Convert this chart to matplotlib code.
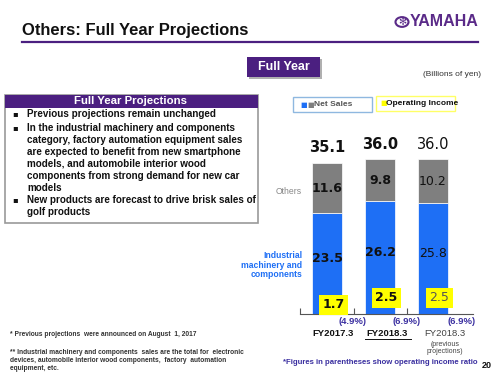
import matplotlib
matplotlib.use("Agg")
import matplotlib.pyplot as plt
from matplotlib.patches import Rectangle, Circle
from matplotlib.transforms import blended_transform_factory

plt.rcParams['font.family'] = ['Liberation Sans', 'DejaVu Sans']

# ---- data ----
periods = ["FY2017.3", "FY2018.3", "FY2018.3"]
industrial = [23.5, 26.2, 25.8]
others = [11.6, 9.8, 10.2]
totals = [35.1, 36.0, 36.0]
op_income = [1.7, 2.5, 2.5]
op_ratio = ["(4.9%)", "(6.9%)", "(6.9%)"]
bullets = [
    ["Previous projections remain unchanged"],
    ["In the industrial machinery and components",
     "category, factory automation equipment sales",
     "are expected to benefit from new smartphone",
     "models, and automobile interior wood",
     "components from strong demand for new car",
     "models"],
    ["New products are forecast to drive brisk sales of",
     "golf products"],
]

W, H = 500, 375
fig = plt.figure(figsize=(5, 3.75), dpi=100)
fig.patch.set_facecolor("white")

def P(x, y):
    return (x / W, 1 - y / H)

PURPLE = "#4b1f80"
BLUE = "#1e6ff5"
GRAY = "#7f7f7f"
NAVY = "#3a2fa0"

# ---- header ----
fig.text(*P(22, 31), "Others: Full Year Projections", fontsize=11.9, fontweight="bold",
         ha="left", va="center", color="#111111")
fig.add_artist(plt.Line2D([22 / W, 478 / W], [1 - 41.5 / H] * 2, color=PURPLE, lw=1.6))
fig.text(*P(478, 22), "YAMAHA", fontsize=11.5, fontweight="bold", ha="right", va="center",
         color="#5a2a88")
fig.add_artist(Circle(P(402, 22), 6.5 / W, transform=fig.transFigure, fc="none",
                      ec="#5a2a88", lw=1.5))
fig.text(*P(402, 22), "✻", fontsize=7, ha="center", va="center", color="#5a2a88",
         family=["DejaVu Sans"])

# Full Year button
fig.add_artist(Rectangle(P(249, 79), 73 / W, 20 / H, transform=fig.transFigure,
                         fc="#b0b0b0", ec="none"))
fig.add_artist(Rectangle(P(247, 77), 73 / W, 20 / H, transform=fig.transFigure,
                         fc=PURPLE, ec="none"))
fig.text(*P(283.5, 67), "Full Year", fontsize=9, fontweight="bold", color="white",
         ha="center", va="center")
fig.text(*P(452, 75), "(Billions of yen)", fontsize=6, color="#333333", ha="center", va="center")

# ---- left text box ----
fig.add_artist(Rectangle(P(5, 223), 253 / W, 128 / H, transform=fig.transFigure,
                         fc="white", ec="#999999", lw=1.2))
fig.add_artist(Rectangle(P(5, 108), 253 / W, 13 / H, transform=fig.transFigure,
                         fc=PURPLE, ec="none"))
fig.text(*P(131, 101.5), "Full Year Projections", fontsize=8.2, fontweight="bold",
         color="white", ha="center", va="center")
starts = [114, 128, 200]
for b, ys in zip(bullets, starts):
    fig.text(*P(12, ys), "▪", fontsize=6, ha="left", va="center", color="#111111",
             family=["DejaVu Sans"])
    for k, line in enumerate(b):
        fig.text(*P(27, ys + 12 * k), line, fontsize=7.15, fontweight="bold", ha="left",
                 va="center", color="#111111")

# footnotes
fig.text(*P(10, 335), "* Previous projections  were announced on August  1, 2017",
         fontsize=4.8, fontweight="bold", color="#333333", ha="left", va="center")
foot2 = ["** Industrial machinery and components  sales are the total for  electronic",
         "devices, automobile interior wood components,  factory  automation",
         "equipment, etc."]
for k, line in enumerate(foot2):
    fig.text(*P(10, 352 + 8 * k), line, fontsize=4.8, fontweight="bold", color="#333333",
             ha="left", va="center")

# ---- legend ----
fig.add_artist(Rectangle(P(293, 112), 79 / W, 15 / H, transform=fig.transFigure,
                         fc="white", ec="#8fb8e0", lw=1))
fig.text(*P(300, 104.5), "■", fontsize=5, color=BLUE, ha="left", va="center",
         family=["DejaVu Sans"])
fig.text(*P(307, 104.5), "■", fontsize=5, color=GRAY, ha="left", va="center",
         family=["DejaVu Sans"])
fig.text(*P(314, 104.5), "Net Sales", fontsize=6, fontweight="bold", color="#555555",
         ha="left", va="center")
fig.add_artist(Rectangle(P(376, 111), 79 / W, 15 / H, transform=fig.transFigure,
                         fc="white", ec="#ffff66", lw=1))
fig.text(*P(380, 103.5), "■", fontsize=5, color="#ffff00", ha="left", va="center",
         family=["DejaVu Sans"])
fig.text(*P(386, 103.5), "Operating Income", fontsize=6, fontweight="bold", color="#111111",
         ha="left", va="center")

# ---- chart ----
ax = fig.add_axes([300 / W, 61 / H, 173 / W, 174 / H])
x = list(range(len(periods)))
ax.bar(x, industrial, width=0.55, color=BLUE, edgecolor="white", linewidth=0.5)
ax.bar(x, others, bottom=industrial, width=0.55, color=GRAY, edgecolor="white", linewidth=0.5)
ax.set_xlim(-0.51, 2.755)
ax.set_ylim(0, 40.5)
for s in ["top", "right", "left"]:
    ax.spines[s].set_visible(False)
ax.spines["bottom"].set_color("#555555")
ax.spines["bottom"].set_linewidth(0.8)
ax.set_yticks([])
ax.set_xticks([-0.51, 0.5, 1.5])
ax.set_xticklabels([])
ax.tick_params(axis="x", direction="in", length=4, color="#555555")

weights = ["bold", "bold", "normal"]
for i in x:
    w = weights[i]
    ax.text(i, totals[i] + 1.8, f"{totals[i]:.1f}", ha="center", va="bottom",
            fontsize=10.5, fontweight=w, color="#111111", family=["DejaVu Sans"])
    ax.text(i, industrial[i] + others[i] / 2, f"{others[i]:.1f}", ha="center", va="center",
            fontsize=9, fontweight=w, color="#111111", family=["DejaVu Sans"])
    ax.text(i, industrial[i] / 2 + 1.2, f"{industrial[i]:.1f}", ha="center", va="center",
            fontsize=9, fontweight=w, color="#111111", family=["DejaVu Sans"])
    yb = 2.1 if i == 0 else 3.8
    ax.text(i + 0.12, yb, f"{op_income[i]:.1f}", ha="center", va="center", fontsize=9,
            fontweight=w, color="#111111" if i < 2 else "#555555", family=["DejaVu Sans"],
            bbox=dict(boxstyle="square,pad=0.28", fc="#ffff00", ec="none"))

tr = blended_transform_factory(ax.transData, fig.transFigure)
ratio_x = [0.48, 1.5, 2.53]
for i in x:
    ax.text(ratio_x[i], 1 - 321 / H, op_ratio[i], transform=tr, ha="center", va="center",
            fontsize=6.8, fontweight="bold", color=NAVY)
lab_x = [0.11, 1.14, 2.23]
ax.text(lab_x[0], 1 - 333 / H, periods[0], transform=tr, ha="center", va="center",
        fontsize=6.8, fontweight="bold", color="#111111")
ax.text(lab_x[1], 1 - 333 / H, periods[1], transform=tr, ha="center", va="center",
        fontsize=6.8, fontweight="bold", color="#111111")
ax.plot([lab_x[1] - 0.42, lab_x[1] + 0.44], [1 - 338.5 / H] * 2, transform=tr,
        color="#111111", lw=0.7, clip_on=False)
ax.text(lab_x[2], 1 - 333 / H, periods[2], transform=tr, ha="center", va="center",
        fontsize=6.8, color="#444444")
ax.text(lab_x[2], 1 - 348 / H, "(previous\nprojections)", transform=tr, ha="center",
        va="center", fontsize=5, color="#444444", linespacing=1.1)

fig.text(*P(380, 362), "*Figures in parentheses show operating income ratio", fontsize=5.6,
         fontweight="bold", color=NAVY, ha="center", va="center")
fig.text(*P(492, 366), "20", fontsize=6.5, fontweight="bold", color="#111111",
         ha="right", va="center")

fig.text(*P(302, 191), "Others", fontsize=6.2, color="#888888", ha="right", va="center")
fig.text(*P(302, 265), "Industrial\nmachinery and\ncomponents", fontsize=6.2,
         fontweight="bold", color=BLUE, ha="right", va="center", linespacing=1.1)

fig.savefig("out.png", dpi=100)
